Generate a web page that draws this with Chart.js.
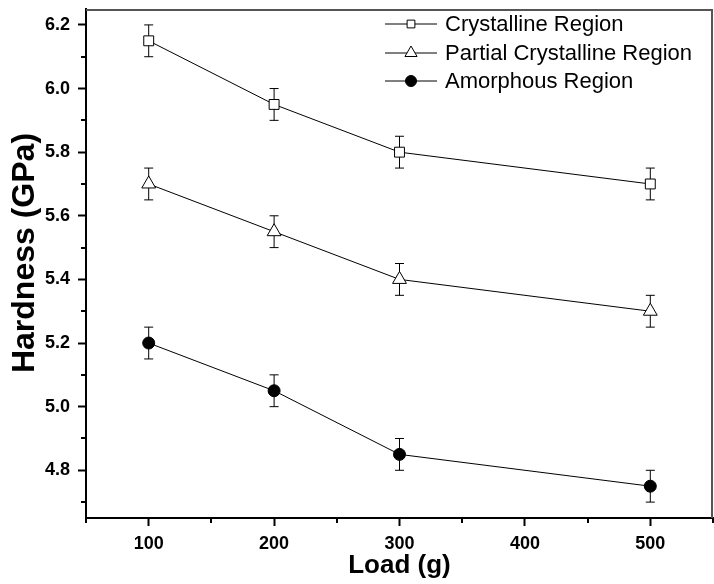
<!DOCTYPE html>
<html>
<head>
<meta charset="utf-8">
<script src="https://cdn.jsdelivr.net/npm/chart.js@4.4.1/dist/chart.umd.min.js"></script>
<style>
    html, body { margin: 0; padding: 0; background: #fff; }
</style>
</head>
<body>
<canvas id="grafico" width="714" height="584"></canvas>
<script>
const loads = [100, 200, 300, 500];
const crystalline = [6.15, 5.95, 5.80, 5.70];
const partial = [5.70, 5.55, 5.40, 5.30];
const amorphous = [5.20, 5.05, 4.85, 4.75];
const errCrystalline = [0.05, 0.05, 0.05, 0.05];
const errPartial = [0.05, 0.05, 0.05, 0.05];
const errAmorphous = [0.05, 0.05, 0.05, 0.05];
const seriesNames = ['Crystalline Region', 'Partial Crystalline Region', 'Amorphous Region'];

const xTicks = [100, 200, 300, 400, 500];
const xMinor = [50, 150, 250, 350, 450, 550];
const yTicks = [4.8, 5.0, 5.2, 5.4, 5.6, 5.8, 6.0, 6.2];
const yMinor = [4.7, 4.9, 5.1, 5.3, 5.5, 5.7, 5.9, 6.1];

const FONT = 'Arial, "Liberation Sans", sans-serif';

const series = [
    { name: seriesNames[0], values: crystalline, errors: errCrystalline, style: 'rect', radius: 7, fill: '#fff', legendRadius: 5.5 },
    { name: seriesNames[1], values: partial, errors: errPartial, style: 'triangle', radius: 8, fill: '#fff', legendRadius: 7 },
    { name: seriesNames[2], values: amorphous, errors: errAmorphous, style: 'circle', radius: 6, fill: '#000', legendRadius: 5.5 }
];

function drawMarker(ctx, style, x, y, r, fill) {
    ctx.beginPath();
    if (style === 'rect') {
        const s = r * Math.SQRT1_2;
        ctx.rect(x - s, y - s, 2 * s, 2 * s);
    } else if (style === 'triangle') {
        ctx.moveTo(x, y - r);
        ctx.lineTo(x + r * Math.sin(Math.PI * 2 / 3), y + r * 0.5);
        ctx.lineTo(x - r * Math.sin(Math.PI * 2 / 3), y + r * 0.5);
        ctx.closePath();
    } else {
        ctx.arc(x, y, r, 0, Math.PI * 2);
    }
    ctx.fillStyle = fill;
    ctx.fill();
    ctx.strokeStyle = '#000';
    ctx.lineWidth = 1;
    ctx.stroke();
}

const errorBars = {
    id: 'errorBars',
    beforeDatasetsDraw(chart) {
        const ctx = chart.ctx;
        const xs = chart.scales.x;
        const ys = chart.scales.y;
        ctx.save();
        ctx.strokeStyle = '#000';
        ctx.lineWidth = 1;
        series.forEach(s => {
            s.values.forEach((v, j) => {
                const x = xs.getPixelForValue(loads[j]);
                const top = ys.getPixelForValue(v + s.errors[j]);
                const bot = ys.getPixelForValue(v - s.errors[j]);
                ctx.beginPath();
                ctx.moveTo(x, top);
                ctx.lineTo(x, bot);
                ctx.moveTo(x - 4.5, top);
                ctx.lineTo(x + 4.5, top);
                ctx.moveTo(x - 4.5, bot);
                ctx.lineTo(x + 4.5, bot);
                ctx.stroke();
            });
        });
        ctx.restore();
    }
};

const extras = {
    id: 'extras',
    afterDraw(chart) {
        const ctx = chart.ctx;
        const area = chart.chartArea;
        const xs = chart.scales.x;
        const ys = chart.scales.y;
        ctx.save();

        // borda de cima e da direita
        const left = xs.getPixelForValue(50);
        const right = xs.getPixelForValue(550);
        const top = ys.getPixelForValue(6.25);
        const bottom = ys.getPixelForValue(4.65);
        ctx.strokeStyle = '#555';
        ctx.lineWidth = 2;
        ctx.beginPath();
        ctx.moveTo(left, top + 1);
        ctx.lineTo(right - 1, top + 1);
        ctx.stroke();
        ctx.beginPath();
        ctx.moveTo(right - 1, top);
        ctx.lineTo(right - 1, bottom);
        ctx.stroke();

        // ticks menores
        ctx.strokeStyle = '#000';
        ctx.lineWidth = 2;
        ctx.beginPath();
        xMinor.forEach(v => {
            const x = Math.round(xs.getPixelForValue(v));
            ctx.moveTo(x, area.bottom);
            ctx.lineTo(x, area.bottom + 5);
        });
        yMinor.forEach(v => {
            const y = Math.round(ys.getPixelForValue(v));
            ctx.moveTo(area.left, y);
            ctx.lineTo(area.left - 5, y);
        });
        ctx.stroke();

        // titulo do eixo y
        ctx.save();
        ctx.translate(25, 253);
        ctx.rotate(-Math.PI / 2);
        ctx.font = 'bold 32px ' + FONT;
        ctx.textAlign = 'center';
        ctx.textBaseline = 'middle';
        ctx.fillStyle = '#000';
        ctx.fillText('Hardness (GPa)', 0, 0);
        ctx.restore();

        // legenda
        const rows = [24, 53, 81];
        ctx.font = '22px ' + FONT;
        ctx.textBaseline = 'middle';
        ctx.textAlign = 'left';
        series.forEach((s, i) => {
            const y = rows[i];
            ctx.strokeStyle = '#000';
            ctx.lineWidth = 1;
            ctx.beginPath();
            ctx.moveTo(385, y);
            ctx.lineTo(437, y);
            ctx.stroke();
            drawMarker(ctx, s.style, 411, y, s.legendRadius, s.fill);
            ctx.fillStyle = '#000';
            ctx.fillText(s.name, 445, y + 1);
        });
        ctx.restore();
    }
};

const ctx = document.getElementById('grafico').getContext('2d');

const chart = new Chart(ctx, {
    type: 'line',
    data: {
        datasets: series.map(s => ({
            label: s.name,
            data: loads.map((c, j) => ({ x: c, y: s.values[j] })),
            borderColor: '#000',
            borderWidth: 1,
            fill: false,
            tension: 0,
            pointStyle: s.style,
            pointRadius: s.radius,
            pointHoverRadius: s.radius,
            pointBackgroundColor: s.fill,
            pointBorderColor: '#000',
            pointBorderWidth: 1
        }))
    },
    options: {
        responsive: false,
        animation: false,
        devicePixelRatio: 1,
        layout: { autoPadding: false, padding: { top: 9, right: 1, left: 0, bottom: 0 } },
        plugins: {
            legend: { display: false },
            tooltip: { enabled: false }
        },
        scales: {
            x: {
                type: 'linear',
                min: 50,
                max: 550,
                afterBuildTicks: s => { s.ticks = xTicks.map(v => ({ value: v })); },
                afterFit: s => { s.height = 66; s.paddingLeft = 0; s.paddingRight = 0; },
                ticks: {
                    color: '#000',
                    font: { family: FONT, size: 18, weight: 'bold' },
                    padding: 7,
                    maxRotation: 0
                },
                grid: { drawOnChartArea: false, drawTicks: true, tickLength: 8, tickWidth: 2, color: '#000' },
                border: { color: '#000', width: 2 },
                title: {
                    display: true,
                    text: 'Load (g)',
                    color: '#000',
                    font: { family: FONT, size: 26, weight: 'bold' },
                    padding: { top: 0, bottom: 3 }
                }
            },
            y: {
                type: 'linear',
                min: 4.65,
                max: 6.25,
                afterBuildTicks: s => { s.ticks = yTicks.map(v => ({ value: v })); },
                afterFit: s => { s.width = 86; s.paddingTop = 0; s.paddingBottom = 0; },
                ticks: {
                    color: '#000',
                    font: { family: FONT, size: 18, weight: 'bold' },
                    padding: 8,
                    callback: v => v.toFixed(1)
                },
                grid: { drawOnChartArea: false, drawTicks: true, tickLength: 8, tickWidth: 2, color: '#000' },
                border: { color: '#000', width: 2 }
            }
        }
    },
    plugins: [errorBars, extras]
});
</script>
</body>
</html>
